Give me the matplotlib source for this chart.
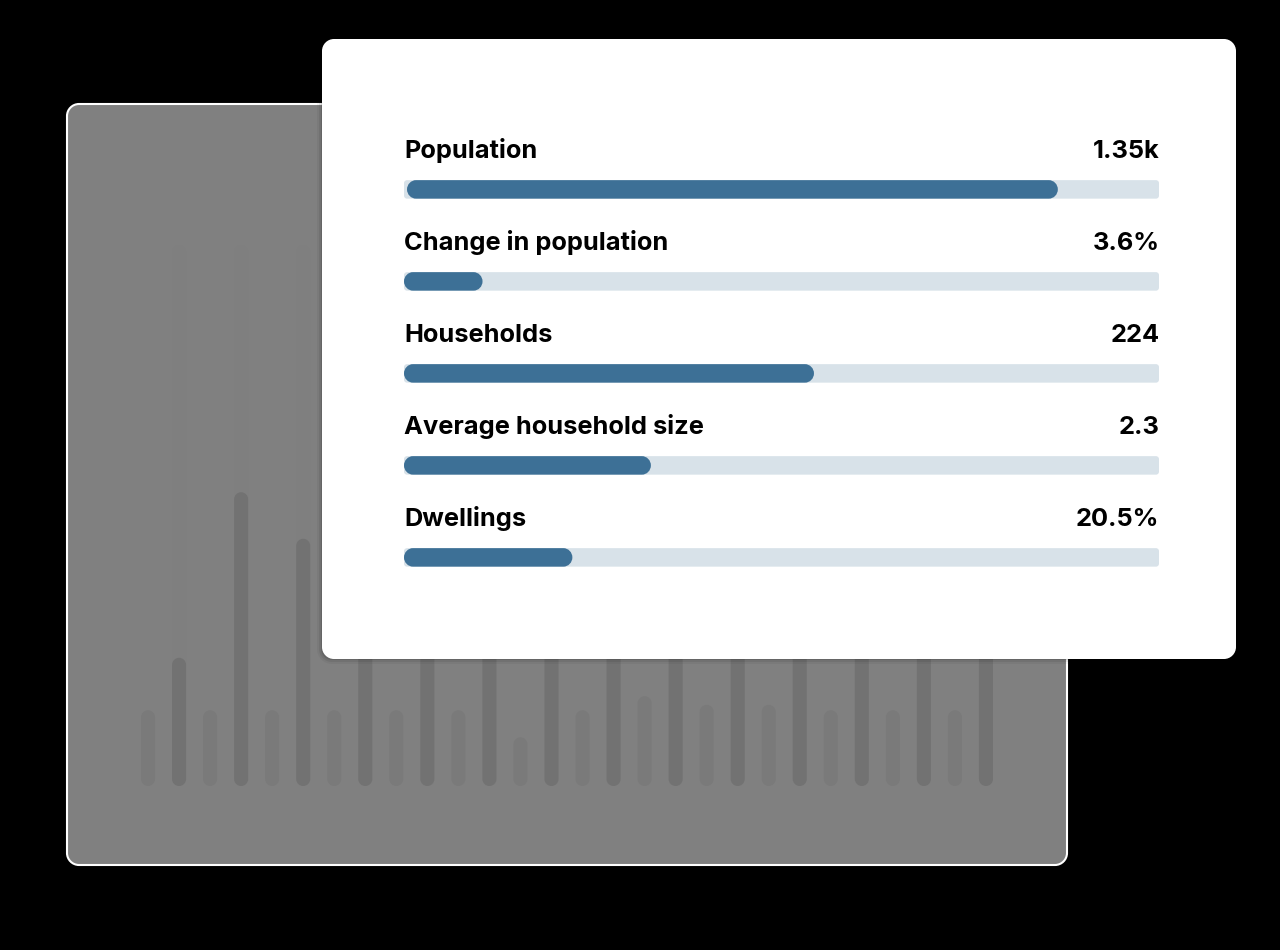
import matplotlib.pyplot as plt
from matplotlib.patches import PathPatch
from matplotlib.path import Path

# stats card
labels = ['Population', 'Change in population', 'Households', 'Average household size', 'Dwellings']
value_labels = ['1.35k', '3.6%', '224', '2.3', '20.5%']
fill_start = [0.4, 0, 0, 0, 0]
fill_end = [86.6, 10.4, 54.3, 32.7, 22.3]

# faded chart behind the card, heights in % of plot height
light_heights = [14, 14, 14, 14, 14, 14, 9, 14, 16.6, 15, 15, 14, 14, 14]
dark_heights = [23.7, 54.3, 45.7, 45, 40, 42, 38, 44, 41, 43, 46, 40, 44, 38]

W, H = 1280, 950
KAPPA = 0.5523


def axes_px(left, top, right, bottom, zorder):
    ax = fig.add_axes([left / W, 1 - bottom / H, (right - left) / W, (bottom - top) / H], zorder=zorder)
    ax.axis('off')
    return ax


def rounded(ax, x, y, w, h, rx, ry, **kw):
    # rectangle with circular corners, rx and ry are the radius in data units of each axis
    kx, ky = rx * (1 - KAPPA), ry * (1 - KAPPA)
    x1, y1 = x + w, y + h
    verts = [(x + rx, y), (x1 - rx, y),
             (x1 - kx, y), (x1, y + ky), (x1, y + ry), (x1, y1 - ry),
             (x1, y1 - ky), (x1 - kx, y1), (x1 - rx, y1), (x + rx, y1),
             (x + kx, y1), (x, y1 - ky), (x, y1 - ry), (x, y + ry),
             (x, y + ky), (x + kx, y), (x + rx, y), (x + rx, y)]
    C3, L = Path.CURVE4, Path.LINETO
    codes = [Path.MOVETO, L, C3, C3, C3, L, C3, C3, C3, L, C3, C3, C3, L, C3, C3, C3, Path.CLOSEPOLY]
    patch = PathPatch(Path(verts, codes), **kw)
    ax.add_patch(patch)
    return patch


fig = plt.figure(figsize=(W / 100, H / 100), dpi=100, facecolor='black')

# page layer in pixels
page = axes_px(0, 0, W, H, 0)
page.set_xlim(0, W)
page.set_ylim(H, 0)
rounded(page, 67, 104, 1000, 761, 12, 12, facecolor='#808080', edgecolor='white', linewidth=1.5)

# background bars, index on x and % on y
chart = axes_px(132.5, 245, 1001.5, 786, 1)
chart.set_xlim(-0.5, 27.5)
chart.set_ylim(0, 100)
bar_w = 14 / 31.04
bar_ry = 7 * 100 / 541
for i, h in enumerate(light_heights):
    rounded(chart, 2 * i - bar_w / 2, 0, bar_w, h, bar_w / 2, bar_ry, facecolor='#7a7a7a', edgecolor='none')
for i, h in enumerate(dark_heights):
    x = 2 * i + 1 - bar_w / 2
    rounded(chart, x, 0, bar_w, 100, bar_w / 2, bar_ry, facecolor='#7f7f7f', edgecolor='none')
    rounded(chart, x, 0, bar_w, h, bar_w / 2, bar_ry, facecolor='#727272', edgecolor='none')

# white card with soft shadow
card = axes_px(0, 0, W, H, 2)
card.set_xlim(0, W)
card.set_ylim(H, 0)
for grow, alpha in [(5, 0.04), (3, 0.07), (1, 0.1)]:
    rounded(card, 322 - grow, 39 + 6, 914 + 2 * grow, 614 + grow, 10 + grow, 10 + grow,
            facecolor='black', edgecolor='none', alpha=alpha)
rounded(card, 322, 39, 914, 620, 12, 12, facecolor='white', edgecolor='none')

# rows, x in % of the track
rows = axes_px(404, 143.4, 1159, 603.4, 3)
rows.set_xlim(0, 100)
rows.set_ylim(4.5, -0.5)
rows.patch.set_alpha(0)
bar_h = 18.5 / 92
px_x, px_y = 100 / 755, 1 / 92
for i, (name, val) in enumerate(zip(labels, value_labels)):
    rounded(rows, 0, i - bar_h / 2, 100, bar_h, 3 * px_x, 3 * px_y, facecolor='#d8e2e9', edgecolor='none')
    rounded(rows, fill_start[i], i - bar_h / 2, fill_end[i] - fill_start[i], bar_h, 9 * px_x, 9.25 * px_y,
            facecolor='#3d7096', edgecolor='none')
    rows.text(0.05, i - 0.337, name, family='Inter', weight='bold', fontsize=18.3, color='black',
              ha='left', va='baseline', clip_on=False)
    rows.text(100.05, i - 0.337, val, family='Inter', weight='bold', fontsize=18.3, color='black',
              ha='right', va='baseline', clip_on=False)

fig.savefig('out.png', dpi=100, facecolor='black')
